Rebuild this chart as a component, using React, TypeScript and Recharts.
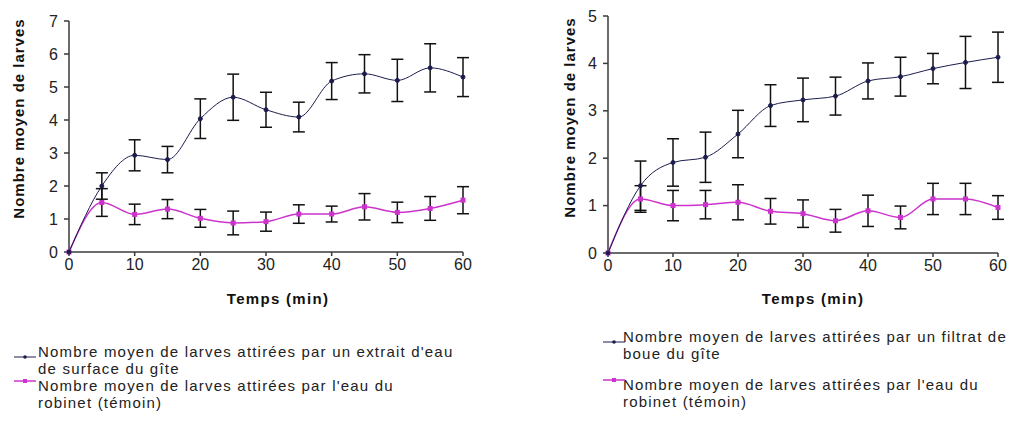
import React from 'react'
import { LineChart, Line, XAxis, YAxis, ErrorBar, Label } from 'recharts'

// Temps (min)
const times = [0, 5, 10, 15, 20, 25, 30, 35, 40, 45, 50, 55, 60]

// graphique de gauche : extrait d'eau de surface
const surfaceMean = [0, 2.0, 2.93, 2.8, 4.04, 4.69, 4.31, 4.09, 5.18, 5.4, 5.2, 5.58, 5.3]
const surfaceErr = [0, 0.4, 0.47, 0.4, 0.6, 0.7, 0.53, 0.45, 0.56, 0.58, 0.64, 0.73, 0.59]
const tapMeanLeft = [0, 1.5, 1.14, 1.3, 1.02, 0.88, 0.92, 1.15, 1.15, 1.37, 1.2, 1.32, 1.57]
const tapErrLeft = [0, 0.42, 0.31, 0.29, 0.27, 0.36, 0.29, 0.28, 0.24, 0.4, 0.31, 0.36, 0.41]

// graphique de droite : filtrat de boue
const boueMean = [0, 1.42, 1.91, 2.02, 2.51, 3.11, 3.23, 3.31, 3.63, 3.72, 3.89, 4.02, 4.13]
const boueErr = [0, 0.52, 0.5, 0.53, 0.5, 0.44, 0.46, 0.4, 0.38, 0.41, 0.32, 0.55, 0.53]
const tapMeanRight = [0, 1.14, 1.0, 1.02, 1.07, 0.88, 0.83, 0.68, 0.89, 0.75, 1.14, 1.14, 0.96]
const tapErrRight = [0, 0.28, 0.32, 0.3, 0.37, 0.27, 0.29, 0.24, 0.33, 0.24, 0.33, 0.33, 0.25]

const xTicks = [0, 10, 20, 30, 40, 50, 60]
const yTicksLeft = [0, 1, 2, 3, 4, 5, 6, 7]
const yTicksRight = [0, 1, 2, 3, 4, 5]

const yTitle = 'Nombre moyen de larves'
const xTitle = 'Temps (min)'
const legendLeft = [
  ["Nombre moyen de larves attirées par un extrait d'eau", 'de surface du gîte'],
  ["Nombre moyen de larves attirées par l'eau du", 'robinet (témoin)'],
]
const legendRight = [
  ['Nombre moyen de larves attirées par un filtrat de', 'boue du gîte'],
  ["Nombre moyen de larves attirées par l'eau du", 'robinet (témoin)'],
]

const NAVY = '#1c1c4e'
const PINK = '#cc33cc'
const AXIS = '#3a3a3a'
const FONT = '"Liberation Sans", Arial, sans-serif'

const buildRows = (mean: number[], err: number[], tap: number[], tapErr: number[]) =>
  times.map((t, i) => ({ t, mean: mean[i], err: err[i], tap: tap[i], tapErr: tapErr[i] }))

const leftRows = buildRows(surfaceMean, surfaceErr, tapMeanLeft, tapErrLeft)
const rightRows = buildRows(boueMean, boueErr, tapMeanRight, tapErrRight)

function XTitle({ viewBox, shift }: any) {
  const { x, y, width, height } = viewBox
  return (
    <text x={x + width / 2 + shift} y={y + height - 6} textAnchor="middle"
      fontFamily={FONT} fontSize={15} fontWeight="bold" fill="#111" style={{ letterSpacing: 1.3 }}>
      {xTitle}
    </text>
  )
}

function YTitle({ viewBox, cx, shift }: any) {
  const { y, height } = viewBox
  const cy = y + height / 2 + shift
  return (
    <text x={cx} y={cy} transform={`rotate(-90 ${cx} ${cy})`} textAnchor="middle"
      dominantBaseline="central" fontFamily={FONT} fontSize={15} fontWeight="bold" fill="#111"
      style={{ letterSpacing: 1 }}>
      {yTitle}
    </text>
  )
}

const squareDot = (p: any) => (
  <rect key={`sq-${p.index}`} x={p.cx - 2.5} y={p.cy - 2.5} width={5} height={5} fill={PINK} />
)

function Panel({ rows, yMax, yTicks, width, margin, xHeight, yWidth, titleX, titleShift, xShift }: any) {
  const tickStyle = { fontSize: 16, fill: '#222', fontFamily: FONT }
  return (
    <LineChart width={width} height={310} data={rows} margin={margin}>
      <XAxis dataKey="t" type="number" domain={[0, 60]} ticks={xTicks} height={xHeight}
        tick={tickStyle} tickSize={4} tickMargin={3} stroke={AXIS} strokeWidth={1.5} interval={0}>
        <Label content={<XTitle shift={xShift} />} />
      </XAxis>
      <YAxis type="number" domain={[0, yMax]} ticks={yTicks} width={yWidth}
        tick={tickStyle} tickSize={5} tickMargin={6} stroke={AXIS} strokeWidth={1.5} interval={0}>
        <Label content={<YTitle cx={titleX} shift={titleShift} />} />
      </YAxis>
      <Line type="monotone" dataKey="tap" stroke={PINK} strokeWidth={1.5} dot={squareDot}
        activeDot={false} isAnimationActive={false}>
        <ErrorBar dataKey="tapErr" direction="y" width={6} stroke="#111" strokeWidth={1.5} />
      </Line>
      <Line type="monotone" dataKey="mean" stroke={NAVY} strokeWidth={1} dot={{ r: 2, fill: NAVY, stroke: NAVY }}
        activeDot={false} isAnimationActive={false}>
        <ErrorBar dataKey="err" direction="y" width={6} stroke="#111" strokeWidth={1.5} />
      </Line>
    </LineChart>
  )
}

function Marker({ color, square }: { color: string; square?: boolean }) {
  return (
    <svg width={22} height={8} style={{ display: 'block' }}>
      <line x1={0} y1={4} x2={22} y2={4} stroke={color} strokeWidth={square ? 1.5 : 1} />
      {square
        ? <rect x={9} y={2} width={4} height={4} fill={color} />
        : <circle cx={11} cy={4} r={1.8} fill={color} />}
    </svg>
  )
}

function Legend({ items, left, top, markerLeft, gap }: any) {
  return (
    <div style={{ position: 'absolute', left, top, fontFamily: FONT, fontSize: 15, color: '#222',
      lineHeight: '17px', letterSpacing: 1.2, whiteSpace: 'nowrap' }}>
      {items.map((lines: string[], i: number) => (
        <div key={i} style={{ position: 'relative', marginTop: i === 0 ? 0 : gap }}>
          <div style={{ position: 'absolute', left: markerLeft - left, top: i === 0 ? 10 : 0 }}>
            <Marker color={i === 0 ? NAVY : PINK} square={i === 1} />
          </div>
          {lines.map((l) => <div key={l}>{l}</div>)}
        </div>
      ))}
    </div>
  )
}

export default function App() {
  return (
    <div style={{ position: 'absolute', left: 0, top: 0, width: 1013, height: 421, background: '#fff', overflow: 'hidden' }}>
      <div style={{ position: 'absolute', left: 0, top: 0 }}>
        <Panel rows={leftRows} yMax={7} yTicks={yTicksLeft} width={500}
          margin={{ top: 21, right: 37, bottom: 0, left: 0 }} xHeight={58} yWidth={69}
          titleX={18} titleShift={-18} xShift={12} />
      </div>
      <div style={{ position: 'absolute', left: 540, top: 0 }}>
        <Panel rows={rightRows} yMax={5} yTicks={yTicksRight} width={473}
          margin={{ top: 16, right: 15, bottom: 0, left: 0 }} xHeight={57} yWidth={68}
          titleX={29} titleShift={-17} xShift={10} />
      </div>
      <Legend items={legendLeft} left={38} top={343} markerLeft={14} gap={0} />
      <Legend items={legendRight} left={623} top={328} markerLeft={603} gap={14} />
    </div>
  )
}
